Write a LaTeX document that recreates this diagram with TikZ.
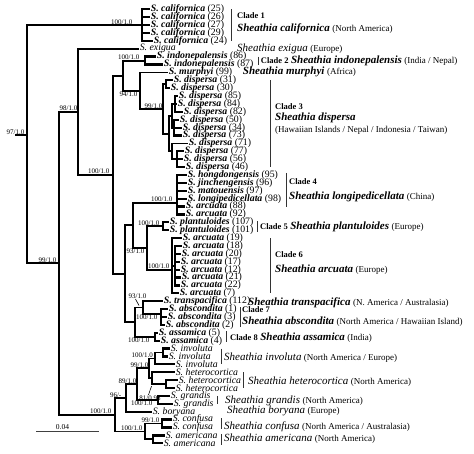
\documentclass[tikz,border=0pt]{standalone}
\usepackage{fontspec}
\setmainfont{Liberation Serif}
\usetikzlibrary{calc}

\newcommand{\taxb}[2]{\textbf{\textit{S.\ #1}} (#2)}
\newcommand{\taxi}[1]{\textit{S.\ #1}}
\newcommand{\shb}[1]{{\fontsize{11}{11}\selectfont\bfseries\itshape Sheathia #1}}
\newcommand{\shi}[1]{{\fontsize{11}{11}\selectfont\itshape Sheathia #1}}
\newcommand{\reg}[1]{{\fontsize{9}{9}\selectfont(#1)}}

\begin{document}
\begin{tikzpicture}[
    x=1pt, y=-1pt,
    branch/.style={line width=1.8pt, line join=miter},
    comb/.style={line width=2.3pt},
    taxon/.style={anchor=west, inner sep=0.6pt, font=\fontsize{9.8}{9.8}\selectfont},
    bs/.style={inner sep=0.5pt, font=\fontsize{7}{7}\selectfont},
    bsup/.style={bs, anchor=south east, xshift=#1},
    bsup/.default=0pt,
    bsdown/.style={bs, anchor=north east, xshift=#1},
    bsdown/.default=0pt,
    note/.style={anchor=west, inner sep=0pt},
    cladename/.style={note, font=\fontsize{8.5}{8.5}\selectfont\bfseries},
    bracket/.style={line width=0.9pt, black!80},
    pointer/.style={line width=0.6pt},
    scalebar/.style={line width=1.1pt, black!75}
]
\useasboundingbox (0,0) rectangle (474,453);

% Tips (row r sits at y = 1.41 + 7.89 r)
\foreach \r/\x/\nm/\txt in {
    1/150/cal25/{\taxb{californica}{25}},
    2/150/cal26/{\taxb{californica}{26}},
    3/150/cal27/{\taxb{californica}{27}},
    4/150/cal29/{\taxb{californica}{29}},
    5/153/cal24/{\taxb{californica}{24}},
    6/139/exi/{\taxi{exigua}},
    7/156/ind86/{\taxb{indonepalensis}{86}},
    8/163/ind87/{\taxb{indonepalensis}{87}},
    9/168/mur/{\taxb{murphyi}{99}},
    10/173/d31/{\taxb{dispersa}{31}},
    11/170/d30/{\taxb{dispersa}{30}},
    12/178/d85/{\taxb{dispersa}{85}},
    13/177/d84/{\taxb{dispersa}{84}},
    14/183/d82/{\taxb{dispersa}{82}},
    15/179/d50/{\taxb{dispersa}{50}},
    16/182/d34/{\taxb{dispersa}{34}},
    17/182/d73/{\taxb{dispersa}{73}},
    18/188/d71/{\taxb{dispersa}{71}},
    19/184/d77/{\taxb{dispersa}{77}},
    20/183/d56/{\taxb{dispersa}{56}},
    21/185/d46/{\taxb{dispersa}{46}},
    22/187/hon/{\taxb{hongdongensis}{95}},
    23/187/jin/{\taxb{jinchengensis}{96}},
    24/187/mat/{\taxb{matouensis}{97}},
    25/187/lon/{\taxb{longipedicellata}{98}},
    26/185/a88/{\taxb{arcuata}{88}},
    27/185/a92/{\taxb{arcuata}{92}},
    28/169/pl107/{\taxb{plantuloides}{107}},
    29/169/pl101/{\taxb{plantuloides}{101}},
    30/182/a19/{\taxb{arcuata}{19}},
    31/182/a18/{\taxb{arcuata}{18}},
    32/181/a20/{\taxb{arcuata}{20}},
    33/180/a17/{\taxb{arcuata}{17}},
    34/180/a12/{\taxb{arcuata}{12}},
    35/181/a21/{\taxb{arcuata}{21}},
    36/180/a22/{\taxb{arcuata}{22}},
    37/179/a7/{\taxb{arcuata}{7}},
    38/163/tra/{\taxb{transpacifica}{112}},
    39/168/ab1/{\taxb{abscondita}{1}},
    40/167/ab3/{\taxb{abscondita}{3}},
    41/165/ab2/{\taxb{abscondita}{2}},
    42/158/as5/{\taxb{assamica}{5}},
    43/160/as4/{\taxb{assamica}{4}},
    44/170/inv1/{\taxi{involuta}},
    45/168/inv2/{\taxi{involuta}},
    46/175/inv3/{\taxi{involuta}},
    47/175/het1/{\taxi{heterocortica}},
    48/178/het2/{\taxi{heterocortica}},
    49/175/het3/{\taxi{heterocortica}},
    50/170/gra1/{\taxi{grandis}},
    51/173/gra2/{\taxi{grandis}},
    52/152/bor/{\taxi{boryana}},
    53/172/con1/{\taxi{confusa}},
    54/172/con2/{\taxi{confusa}},
    55/165/ame1/{\taxi{americana}},
    56/163/ame2/{\taxi{americana}}}
    \node[taxon] (\nm) at (\x,{1.41+7.89*\r}) {\txt};

% Internal nodes
\coordinate (rootstub) at (15,135);
\coordinate (root) at (27,135);
\coordinate (cal) at (142,25.1);
\coordinate (A) at (59,263.2);
\coordinate (B) at (78,111.7);
\coordinate (D) at (113,174.7);
\coordinate (E) at (123,75.7);
\coordinate (I) at (145,60.6);
\coordinate (G) at (140,90.7);
\coordinate (H) at (163,108.9);
\coordinate (d3130) at (166,84.3);
\coordinate (H2) at (169,133.6);
\coordinate (H3) at (172,115.8);
\coordinate (g1) at (175,104.0);
\coordinate (g2) at (174,127.7);
\coordinate (H4) at (172,151.3);
\coordinate (g3) at (177,159.2);
\coordinate (F) at (125,273.6);
\coordinate (P) at (133,225.3);
\coordinate (R) at (177,202.6);
\coordinate (S) at (147,248.0);
\coordinate (PL) at (163,226.3);
\coordinate (AR) at (172,269.7);
\coordinate (AR2) at (175,265.7);
\coordinate (Q) at (135,322.1);
\coordinate (T) at (143,307.5);
\coordinate (V) at (161,313.9);
\coordinate (U) at (155,336.7);
\coordinate (C) at (115,414.7);
\coordinate (J) at (126,397.9);
\coordinate (L) at (137,384.1);
\coordinate (M) at (149,368.3);
\coordinate (W) at (155,358.4);
\coordinate (W1) at (163,352.5);
\coordinate (X) at (152,378.2);
\coordinate (X1) at (166,384.1);
\coordinate (Xj) at (X |- X1);
\coordinate (N) at (158,399.8);
\coordinate (K) at (145,431.4);
\coordinate (CF) at (162,423.5);
\coordinate (AM) at (153,439.3);

% Backbone
\draw[branch] (rootstub) -- (root);
\draw[branch] (root) |- (cal);
\draw[branch] (root) |- (A);
\draw[branch] (A) |- (B);
\draw[branch] (A) |- (C);
\draw[branch] (B) |- (exi.west);
\draw[branch] (B) |- (D);
\draw[branch] (D) |- (E);
\draw[branch] (D) |- (F);
\draw[branch] (E) |- (I);
\draw[branch] (E) |- (G);
\draw[branch] (G) |- (mur.west);
\draw[branch] (G) |- (H);
\draw[branch] (H) |- (d3130);
\draw[branch] (H) |- (H2);
\draw[branch] (H2) |- (H3);
\draw[branch] (H2) |- (H4);
\draw[branch] (H3) |- (g1);
\draw[branch] (H3) |- (g2);
\draw[branch] (H4) |- (d71.west);
\draw[branch] (H4) |- (g3);
\draw[branch] (F) |- (P);
\draw[branch] (F) |- (Q);
\draw[branch] (P) |- (R);
\draw[branch] (P) |- (S);
\draw[branch] (S) |- (PL);
\draw[branch] (S) |- (AR);
\draw[branch] (AR) |- (a19.west);
\draw[branch] (AR) |- (AR2);
\draw[branch] (AR) |- (a7.west);
\draw[branch] (Q) |- (T);
\draw[branch] (Q) |- (U);
\draw[branch] (T) |- (tra.west);
\draw[branch] (T) |- (V);
\draw[branch] (C) |- (J);
\draw[branch] (C) |- (K);
\draw[branch] (J) |- (L);
\draw[branch] (J) |- (bor.west);
\draw[branch] (L) |- (M);
\draw[branch] (L) |- (N);
\draw[branch] (M) |- (W);
\draw[branch] (M) |- (X);
\draw[branch] (W) |- (W1);
\draw[branch] (W) |- (inv3.west);
\draw[branch] (X) |- (het1.west);
\draw[branch] (X) |- (X1);
\draw[branch] (K) |- (CF);
\draw[branch] (K) |- (AM);

% Short terminal combs
\foreach \p/\kids in {cal/{cal25,cal26,cal27,cal29,cal24}, I/{ind86,ind87},
    d3130/{d31,d30}, g1/{d85,d84,d82}, g2/{d50,d34,d73}, g3/{d77,d56,d46},
    R/{hon,jin,mat,lon,a88,a92}, PL/{pl107,pl101}, AR2/{a18,a20,a17,a12,a21,a22},
    V/{ab1,ab3,ab2}, U/{as5,as4}, W1/{inv1,inv2}, X1/{het2,het3},
    N/{gra1,gra2}, CF/{con1,con2}, AM/{ame1,ame2}}
    \foreach \c in \kids
        \draw[branch,comb] (\p) |- (\c.west);

% Support values
\node[bsup=-2pt] (bsroot) at (root) {97/1.0};
\node[bsup=-9pt] (bscal) at (cal) {100/1.0};
\node[bsup=-2pt] (bsA) at (A) {99/1.0};
\node[bsup] (bsB) at (B) {98/1.0};
\node[bsup=-3pt] (bsD) at (D) {100/1.0};
\node[bsup=-5pt] (bsI) at (I) {100/1.0};
\node[bsdown=-2pt] (bsG) at (G) {94/1.0};
\node[bsup] (bsH) at (H) {99/1.0};
\node[bsup=-4pt] (bsR) at (R) {100/1.0};
\node[bsup=-3pt] (bsPL) at (PL) {100/1.0};
\node[bsdown=-2pt] (bsS) at (S) {93/1.0};
\node[bsup=-2pt] (bsAR) at (AR) {100/1.0};
\node[bs] (bsT) at ([xshift=-5.5pt,yshift=11.5pt]T) {93/1.0};
\draw[pointer] ([xshift=-2pt]bsT.south) -- ([xshift=-4pt,yshift=2pt]T);
\node[bsdown=-3pt] (bsV) at (V) {100/1.0};
\node[bsdown=-5pt] (bsU) at (U) {100/1.0};
\node[bsup=-3pt] (bsC) at (C) {100/1.0};
\node[bsup=-4pt] (bsJ) at (J) {96/-};
\node[bsup] (bsL) at (L) {89/1.0};
\node[bsup] (bsM) at (M) {99/1.0};
\node[bsup=-1.5pt] (bsW) at (W) {100/1.0};
\node[bs] (bsX) at ([xshift=-2pt,yshift=-19.8pt]X) {81/0.98};
\draw[pointer] ([xshift=-1.5pt]bsX.north) -- ([xshift=-0.5pt,yshift=-2pt]Xj);
\node[bsdown=-5pt] (bsN) at (N) {100/1.0};
\node[bsup=-2pt] (bsK) at (K) {100/1.0};
\node[bsup=-2pt] (bsCF) at (CF) {99/1.0};

% Scale bar
\coordinate (sbl) at (36,431.7);
\coordinate (sbr) at (99,431.7);
\draw[scalebar] (sbl) -- (sbr);
\node[bs, anchor=south, font=\fontsize{7.5}{7.5}\selectfont] (sblab) at ($(sbl)!0.42!(sbr)+(0,-1.5)$) {0.04};

% Clades and species
\node[cladename] (cl1) at (237,15.6) {Clade 1};
\node[note] (sp1) at (237,29) {\shb{californica} \reg{North America}};
\draw[bracket] ($(cl1.west |- cal25)+(-5.3,0)$) -- ($(cl1.west |- cal24)+(-5.3,0)$);
\node[note] (spex) at (237,49) {\shi{exigua} \reg{Europe}};
\node[note] (cl2) at (260.7,61) {{\fontsize{8.5}{8.5}\selectfont\bfseries Clade 2} \shb{indonepalensis} \reg{India / Nepal}};
\draw[bracket] ($(cl2.west |- ind86)+(-2.5,0)$) -- ($(cl2.west |- ind87)+(-2.5,0)$);
\node[note] (spmu) at (242.7,72) {\shb{murphyi} \reg{Africa}};
\node[cladename] (cl3) at (275,106.7) {Clade 3};
\node[note] (sp3) at (275,118) {\shb{dispersa}};
\node[note] (rg3) at (275,130) {\reg{Hawaiian Islands / Nepal / Indonesia / Taiwan}};
\draw[bracket] ($(cl3.west |- d31)+(-5,0)$) -- ($(cl3.west |- d46)+(-5,0)$);
\node[cladename] (cl4) at (289,181.7) {Clade 4};
\node[note] (sp4) at (289,197) {\shb{longipedicellata} \reg{China}};
\draw[bracket] ($(cl4.west |- hon)+(-2.5,-2)$) -- ($(cl4.west |- a88)+(-2.5,0)$);
\node[note] (cl5) at (260,226.5) {{\fontsize{8.5}{8.5}\selectfont\bfseries Clade 5} \shb{plantuloides} \reg{Europe}};
\draw[bracket] ($(cl5.west |- pl107)+(-2.7,-1.5)$) -- ($(cl5.west |- pl101)+(-2.7,1.5)$);
\node[cladename] (cl6) at (275,255) {Clade 6};
\node[note] (sp6) at (275,270) {\shb{arcuata} \reg{Europe}};
\draw[bracket] ($(cl6.west |- a19)+(-4.3,0)$) -- ($(cl6.west |- a7)+(-4.3,0)$);
\node[note] (sptr) at (248,302.7) {\shb{transpacifica} \reg{N. America / Australasia}};
\node[cladename] (cl7) at (242,310) {Clade 7};
\node[note] (sp7) at (242,321.7) {\shb{abscondita} \reg{North America / Hawaiian Island}};
\draw[bracket] ($(cl7.west |- ab1)+(-2,-2)$) -- ($(cl7.west |- ab2)+(-2,2)$);
\node[note] (cl8) at (230,337.3) {{\fontsize{8.5}{8.5}\selectfont\bfseries Clade 8} \shb{assamica} \reg{India}};
\draw[bracket] ($(cl8.west |- as5)+(-4,-1.5)$) -- ($(cl8.west |- as4)+(-4,1.5)$);
\node[note] (spinv) at (224,358) {\shi{involuta} \reg{North America / Europe}};
\draw[bracket] ($(spinv.west |- inv1)+(-3,0)$) -- ($(spinv.west |- inv3)+(-3,0)$);
\node[note] (sphet) at (248,381.7) {\shi{heterocortica} \reg{North America}};
\draw[bracket] ($(sphet.west |- het1)+(-5,0)$) -- ($(sphet.west |- het3)+(-5,0)$);
\node[note] (spgra) at (225,401) {\shi{grandis} \reg{North America}};
\draw[bracket] ($(spgra.west |- gra1)+(-8,0)$) -- ($(spgra.west |- gra2)+(-8,0)$);
\node[note] (spbor) at (227,410.7) {\shi{boryana} \reg{Europe}};
\node[note] (spcon) at (224,426.7) {\shi{confusa} \reg{North America / Australasia}};
\draw[bracket] ($(spcon.west |- con1)+(-3,-1.5)$) -- ($(spcon.west |- con2)+(-3,1.5)$);
\node[note] (spame) at (224,438.5) {\shi{americana} \reg{North America}};
\draw[bracket] ($(spame.west |- ame1)+(-3,-1.5)$) -- ($(spame.west |- ame2)+(-3,1.5)$);

\end{tikzpicture}
\end{document}
